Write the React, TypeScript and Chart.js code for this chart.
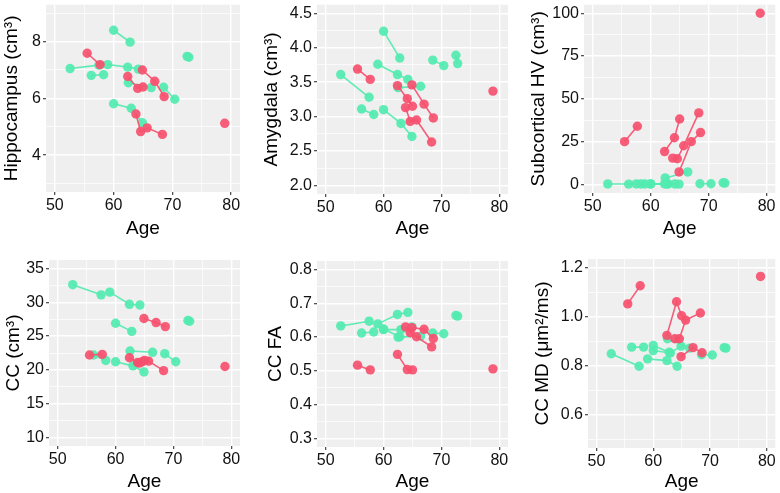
import React, { useEffect, useRef } from 'react';
import { Chart, registerables } from 'chart.js';

Chart.register(...registerables);

const FONT = '"Liberation Sans", Arial, Helvetica, sans-serif';
const RED = 'rgba(246, 80, 110, 0.92)';
const GREEN = 'rgba(82, 234, 176, 0.92)';
const PANEL_BG = '#EFEFEF';

// Subject ages (years) at each visit
const GREEN_AGES = [[52.6, 57.5], [56.2, 58.3], [59.0, 62.4, 64.2], [60.0, 62.8], [60.0, 63.0, 64.9], [62.5, 66.4], [68.5, 70.4], [72.5, 72.8]];
const RED_AGES = [[55.5, 57.7], [62.4, 64.1, 65.0], [63.8, 64.6, 65.7, 68.3], [64.9, 67.0, 68.6], [78.9]];

// Hippocampus (cm3)
const HIPPO_GREEN = [[7.05, 7.17], [6.81, 6.83], [7.19, 7.10, 7.03], [8.40, 7.98], [5.81, 5.65, 5.14], [6.55, 6.38], [6.39, 5.97], [7.48, 7.45]];
const HIPPO_RED = [[7.59, 7.19], [6.77, 6.35, 6.40], [5.45, 4.83, 4.96, 4.73], [7.00, 6.60, 6.06], [5.12]];

// Amygdala (cm3)
const AMYG_GREEN = [[3.61, 3.28], [3.11, 3.03], [3.76, 3.61, 3.54], [4.24, 3.85], [3.10, 2.90, 2.71], [3.42, 3.44], [3.82, 3.74], [3.89, 3.77]];
const AMYG_RED = [[3.69, 3.54], [3.45, 3.26, 3.15], [3.13, 2.93, 2.95, 2.63], [3.46, 3.18, 2.98], [3.37]];

// Subcortical HV (cm3)
const SUB_GREEN = [[0.3, 0.3], [0.2, 0.3], [0.3, 0.3, 0.3], [0.3, 0.3], [0.3, 0.3, 0.2], [3.8, 7.3], [0.4, 0.4], [1.0, 0.8]];
const SUB_RED = [[25, 34], [19.2, 27.3, 38.2], [15.4, 15.0, 22.6, 41.8], [7.3, 25, 30.3], [100]];

// CC (cm3)
const CC_GREEN = [[32.6, 31.1], [22.2, 21.4], [31.5, 29.7, 29.6], [26.9, 25.7], [21.2, 20.6, 19.7], [22.8, 22.6], [22.4, 21.2], [27.3, 27.2]];
const CC_RED = [[22.2, 22.3], [21.8, 21.0, 21.4], [21.1, 21.2, 21.3, 19.9], [27.6, 27.0, 26.4], [20.5]];

// CC FA
const FA_GREEN = [[0.633, 0.647], [0.612, 0.615], [0.639, 0.667, 0.673], [0.624, 0.601], [0.622, 0.622, 0.630], [0.600, 0.603], [0.612, 0.610], [0.664, 0.662]];
const FA_RED = [[0.517, 0.503], [0.549, 0.504, 0.503], [0.630, 0.613, 0.601, 0.571], [0.628, 0.623, 0.596], [0.506]];

// CC MD (um2/ms)
const MD_GREEN = [[0.849, 0.798], [0.876, 0.876], [0.828, 0.821, 0.798], [0.883, 0.855], [0.862, 0.852, 0.880], [0.910, 0.872], [0.845, 0.844], [0.874, 0.872]];
const MD_RED = [[1.052, 1.126], [0.924, 1.061, 1.004], [0.910, 0.910, 0.986, 1.015], [0.837, 0.874, 0.853], [1.164]];

// Axis ticks
const X_MAJOR = [50, 60, 70, 80];
const X_MINOR = [55, 65, 75];
const X_TITLE = 'Age';

type Box = { left: number; top: number; width: number; height: number };
type Area = { left: number; top: number; right: number; bottom: number };
type Panel = {
  title: string;
  green: number[][];
  red: number[][];
  yMin: number;
  yMax: number;
  yMajor: number[];
  yMinor: number[];
  decimals: number;
  canvas: Box;
  area: Area;
  yTitleCenter: number;
  xTitleCenter: number;
};

const PANELS: Panel[] = [
  {
    title: 'Hippocampus (cm³)', green: HIPPO_GREEN, red: HIPPO_RED,
    yMin: 2.7, yMax: 9.3, yMajor: [4, 6, 8], yMinor: [3, 5, 7, 9], decimals: 0,
    canvas: { left: 0, top: 0, width: 260, height: 240 },
    area: { left: 46, top: 2, right: 240, bottom: 192 },
    yTitleCenter: 11.5, xTitleCenter: 229,
  },
  {
    title: 'Amygdala (cm³)', green: AMYG_GREEN, red: AMYG_RED,
    yMin: 1.875, yMax: 4.625, yMajor: [2, 2.5, 3, 3.5, 4, 4.5], yMinor: [2.25, 2.75, 3.25, 3.75, 4.25], decimals: 1,
    canvas: { left: 260, top: 0, width: 260, height: 240 },
    area: { left: 317, top: 3, right: 508, bottom: 194 },
    yTitleCenter: 271.5, xTitleCenter: 229,
  },
  {
    title: 'Subcortical HV (cm³)', green: SUB_GREEN, red: SUB_RED,
    yMin: -5, yMax: 105, yMajor: [0, 25, 50, 75, 100], yMinor: [12.5, 37.5, 62.5, 87.5], decimals: 0,
    canvas: { left: 520, top: 0, width: 260, height: 240 },
    area: { left: 584, top: 2, right: 778, bottom: 193 },
    yTitleCenter: 539, xTitleCenter: 229,
  },
  {
    title: 'CC (cm³)', green: CC_GREEN, red: CC_RED,
    yMin: 8.75, yMax: 36.25, yMajor: [10, 15, 20, 25, 30, 35], yMinor: [12.5, 17.5, 22.5, 27.5, 32.5], decimals: 0,
    canvas: { left: 0, top: 240, width: 260, height: 253 },
    area: { left: 49, top: 260, right: 240, bottom: 446 },
    yTitleCenter: 13.5, xTitleCenter: 481.5,
  },
  {
    title: 'CC FA', green: FA_GREEN, red: FA_RED,
    yMin: 0.275, yMax: 0.825, yMajor: [0.3, 0.4, 0.5, 0.6, 0.7, 0.8], yMinor: [0.35, 0.45, 0.55, 0.65, 0.75], decimals: 1,
    canvas: { left: 260, top: 240, width: 260, height: 253 },
    area: { left: 317, top: 261, right: 508, bottom: 447 },
    yTitleCenter: 275.5, xTitleCenter: 481.5,
  },
  {
    title: 'CC MD (μm²/ms)', green: MD_GREEN, red: MD_RED,
    yMin: 0.465, yMax: 1.235, yMajor: [0.6, 0.8, 1.0, 1.2], yMinor: [0.5, 0.7, 0.9, 1.1], decimals: 1,
    canvas: { left: 520, top: 240, width: 260, height: 253 },
    area: { left: 588, top: 259, right: 778, bottom: 448 },
    yTitleCenter: 543, xTitleCenter: 481.5,
  },
];

const near = (a: number, list: number[]) => list.some((m) => Math.abs(a - m) < 1e-9);

const bgPlugin = {
  id: 'panelBg',
  beforeDraw(chart: any) {
    const { ctx, chartArea: a } = chart;
    ctx.save();
    ctx.fillStyle = PANEL_BG;
    ctx.fillRect(a.left, a.top, a.right - a.left, a.bottom - a.top);
    ctx.restore();
  },
};

const TITLE_SIZE = 19;
const TICK_SIZE = 16;

function buildConfig(p: Panel): any {
  const datasets: any[] = [];
  const add = (ages: number[][], vals: number[][], color: string) => {
    ages.forEach((a, i) => {
      datasets.push({
        data: a.map((age, j) => ({ x: age, y: vals[i][j] })),
        showLine: true,
        borderColor: color,
        borderWidth: 1.6,
        backgroundColor: color,
        pointBackgroundColor: color,
        pointBorderColor: color,
        pointBorderWidth: 0,
        pointRadius: 4.7,
        pointHoverRadius: 4.7,
      });
    });
  };
  add(RED_AGES, p.red, RED);
  add(GREEN_AGES, p.green, GREEN);

  const xTicks = [...X_MAJOR, ...X_MINOR].sort((a, b) => a - b);
  const yTicks = [...p.yMajor, ...p.yMinor].sort((a, b) => a - b);
  const c = p.canvas;
  const xAxisHeight = c.top + c.height - p.area.bottom;
  const yAxisWidth = p.area.left - c.left;
  const titleLH = TITLE_SIZE;

  const gridFor = (major: number[]) => ({
    color: '#FFFFFF',
    lineWidth: (ctx: any) => (ctx.tick && near(ctx.tick.value, major) ? 1.4 : 0.7),
    drawTicks: true,
    tickLength: 3,
    tickWidth: 1.1,
    tickColor: (ctx: any) => (ctx.tick && near(ctx.tick.value, major) ? '#333333' : 'rgba(0,0,0,0)'),
  });

  return {
    type: 'scatter',
    data: { datasets },
    plugins: [bgPlugin],
    options: {
      responsive: false,
      animation: false,
      events: [],
      layout: {
        padding: {
          left: 0,
          top: p.area.top - c.top,
          right: c.left + c.width - p.area.right,
          bottom: 0,
        },
      },
      plugins: { legend: { display: false }, tooltip: { enabled: false }, title: { display: false } },
      scales: {
        x: {
          type: 'linear',
          min: 48.5,
          max: 81.5,
          bounds: 'data',
          afterBuildTicks: (s: any) => {
            s.ticks = xTicks.map((v) => ({ value: v }));
          },
          afterFit: (s: any) => {
            s.height = xAxisHeight;
            s.paddingLeft = 0;
            s.paddingRight = 0;
          },
          grid: gridFor(X_MAJOR),
          border: { display: false },
          ticks: {
            autoSkip: false,
            maxRotation: 0,
            padding: 1,
            color: '#111111',
            font: { family: FONT, size: TICK_SIZE },
            callback: (v: number) => (near(v, X_MAJOR) ? String(v) : ''),
          },
          title: {
            display: true,
            text: X_TITLE,
            color: '#000000',
            font: { family: FONT, size: TITLE_SIZE, lineHeight: 1 },
            padding: { top: 0, bottom: c.top + c.height - p.xTitleCenter - titleLH / 2 },
          },
        },
        y: {
          type: 'linear',
          min: p.yMin,
          max: p.yMax,
          bounds: 'data',
          afterBuildTicks: (s: any) => {
            s.ticks = yTicks.map((v) => ({ value: v }));
          },
          afterFit: (s: any) => {
            s.width = yAxisWidth;
            s.paddingTop = 0;
            s.paddingBottom = 0;
          },
          grid: gridFor(p.yMajor),
          border: { display: false },
          ticks: {
            autoSkip: false,
            padding: 2,
            color: '#111111',
            font: { family: FONT, size: TICK_SIZE },
            callback: (v: number) => (near(v, p.yMajor) ? v.toFixed(p.decimals) : ''),
          },
          title: {
            display: true,
            text: p.title,
            color: '#000000',
            font: { family: FONT, size: TITLE_SIZE, lineHeight: 1 },
            padding: { top: p.yTitleCenter - c.left - titleLH / 2, bottom: 0 },
          },
        },
      },
    },
  };
}

function PanelChart({ panel }: { panel: Panel }) {
  const ref = useRef<HTMLCanvasElement | null>(null);
  useEffect(() => {
    if (!ref.current) return;
    const chart = new Chart(ref.current, buildConfig(panel));
    return () => chart.destroy();
  }, [panel]);
  const c = panel.canvas;
  return (
    <canvas
      ref={ref}
      width={c.width}
      height={c.height}
      style={{ position: 'absolute', left: c.left, top: c.top, width: c.width, height: c.height }}
    />
  );
}

export default function App() {
  return (
    <div style={{ position: 'fixed', left: 0, top: 0, width: 780, height: 493, background: '#FFFFFF', overflow: 'hidden' }}>
      {PANELS.map((p, i) => (
        <PanelChart key={i} panel={p} />
      ))}
    </div>
  );
}
